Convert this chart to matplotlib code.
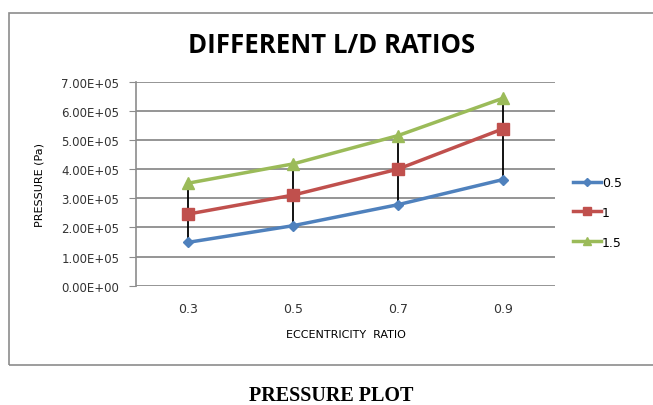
import matplotlib.pyplot as plt
import numpy as np
from matplotlib.patches import Rectangle

ratios = ["0.3", "0.5", "0.7", "0.9"]
ld_05 = [1.49e5, 2.06e5, 2.78e5, 3.64e5]
ld_10 = [2.46e5, 3.11e5, 4.00e5, 5.38e5]
ld_15 = [3.52e5, 4.18e5, 5.15e5, 6.43e5]
series_names = ["0.5", "1", "1.5"]
yticks = [0, 1e5, 2e5, 3e5, 4e5, 5e5, 6e5, 7e5]

fig = plt.figure(figsize=(6.53, 4.06), dpi=100)
ax = fig.add_axes([0.2083, 0.2938, 0.6417, 0.5025])

# chart frame, runs off the right edge like the screenshot
fig.patches.append(Rectangle((9 / 653, 1 - 366 / 406), 1.0, (366 - 14) / 406,
                             transform=fig.transFigure, fill=False,
                             edgecolor="#8c8c8c", linewidth=1.2))

x = np.arange(len(ratios))
styles = [("#4F81BD", "D", 5), ("#C0504D", "s", 8), ("#9BBB59", "^", 8)]
data = [ld_05, ld_10, ld_15]

# high-low lines
lows = np.min(data, axis=0)
highs = np.max(data, axis=0)
ax.vlines(x, lows, highs, color="black", linewidth=1.3, zorder=2)

for vals, name, (c, m, ms) in zip(data, series_names, styles):
    ax.plot(x, vals, color=c, marker=m, markersize=ms, linewidth=2.5,
            label=name, zorder=3)

ax.set_xlim(-0.5, 3.5)
ax.set_ylim(0, 7e5)
ax.set_yticks(yticks)
ax.set_yticklabels([f"{v:.2E}" for v in yticks], fontsize=8.5, color="#333333")
ax.set_xticks(x)
ax.set_xticklabels(ratios, fontsize=9, color="#333333")
ax.grid(axis="y", color="#8c8c8c", linewidth=1.3)
ax.set_axisbelow(True)
for s in ["top", "right", "bottom"]:
    ax.spines[s].set_visible(False)
ax.spines["left"].set_color("#8c8c8c")
ax.spines["left"].set_linewidth(1.2)
ax.tick_params(axis="y", length=5, color="#8c8c8c", pad=7)
ax.tick_params(axis="x", length=0, pad=12)

ax.set_xlabel("ECCENTRICITY  RATIO", fontsize=8, labelpad=10)
ax.set_ylabel("PRESSURE (Pa)", fontsize=8, labelpad=12)

fig.text(0.507, 0.888, "DIFFERENT L/D RATIOS", ha="center", va="center",
         fontsize=18.5, fontweight="bold", family="Open Sans")
fig.text(0.507, 0.024, "PRESSURE PLOT", ha="center", va="center",
         fontsize=14.5, fontweight="bold", family="Liberation Serif")

ax.legend(loc="center left", bbox_to_anchor=(1.03, 0.36), frameon=False,
          fontsize=9, handlelength=2.3, handletextpad=0.05, labelspacing=1.35,
          markerscale=0.8, borderaxespad=0)

fig.savefig("out.png", dpi=100)
